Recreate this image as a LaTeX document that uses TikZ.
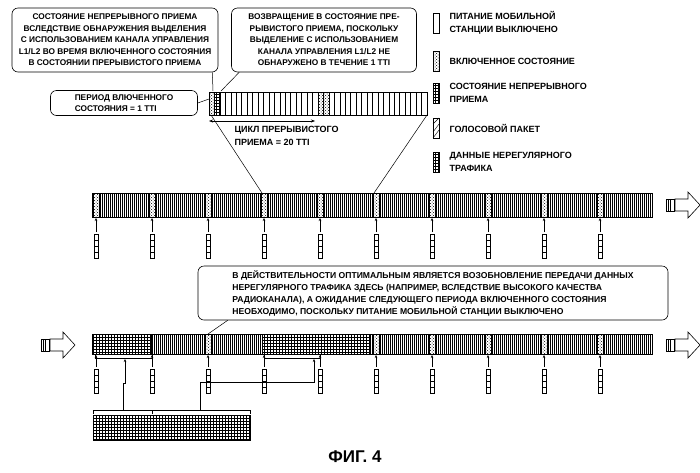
\documentclass[tikz,border=0pt]{standalone}
\usepackage{fontspec}
\setmainfont{Liberation Sans}
\usetikzlibrary{patterns,calc,arrows.meta}
\begin{document}
\begin{tikzpicture}[x=1pt,y=-1pt,
  call/.style={draw,rounded corners=6pt,line width=0.6pt,align=center,font=\bfseries\fontsize{8.3}{11.5}\selectfont,inner sep=1pt},
  onc/.style={pattern=crosshatch dots,draw,line width=0.3pt},
  cont/.style={pattern=grid,draw,line width=0.3pt},
  voice/.style={draw,fill=white,line width=0.5pt},
  lbl/.style={font=\bfseries\fontsize{9}{13}\selectfont,anchor=west,align=left},
  link/.style={line width=0.5pt},
  up/.style={-{Stealth[length=3pt,width=2.5pt]},line width=0.4pt}]
\useasboundingbox (0,0) rectangle (700,472);
% callouts top
\node[call,minimum width=206pt,minimum height=64pt] (c1) at (115,40) {СОСТОЯНИЕ НЕПРЕРЫВНОГО ПРИЕМА\\ВСЛЕДСТВИЕ ОБНАРУЖЕНИЯ ВЫДЕЛЕНИЯ\\С ИСПОЛЬЗОВАНИЕМ КАНАЛА УПРАВЛЕНИЯ\\L1/L2 ВО ВРЕМЯ ВКЛЮЧЕННОГО СОСТОЯНИЯ\\В СОСТОЯНИИ ПРЕРЫВИСТОГО ПРИЕМА};
\node[call,minimum width=185pt,minimum height=64pt] (c2) at (324,40) {ВОЗВРАЩЕНИЕ В СОСТОЯНИЕ ПРЕ-\\РЫВИСТОГО ПРИЕМА, ПОСКОЛЬКУ\\ВЫДЕЛЕНИЕ С ИСПОЛЬЗОВАНИЕМ\\КАНАЛА УПРАВЛЕНИЯ L1/L2 НЕ\\ОБНАРУЖЕНО В ТЕЧЕНИЕ 1 TTI};
\node[call,minimum width=147pt,minimum height=25pt,align=left] (c3) at (124,103) {ПЕРИОД ВЛЮЧЕННОГО\\СОСТОЯНИЯ = 1 TTI};
% zoomed bar
\foreach \i in {0,...,39} \draw[line width=0.6pt] (209+\i*5.45,92) rectangle ++(5.45,23);
\draw[onc] (209,92) rectangle ++(5.45,23);
\draw[cont] (214.45,92) rectangle ++(5.45,23);
\draw[onc] (318,92) rectangle ++(5.45,23);
\draw[onc] (323.45,92) rectangle ++(5.45,23);
\coordinate (zl) at (211,115); \coordinate (zr) at (427,115);
\draw[link] (c1.south east)++(-6,0) -- (213,91);
\draw[link] (c2.south west)++(8,0) -- (221,91);
\draw[link] (c3.east) -- (209,99);
\coordinate (a1) at (209,121); \coordinate (a2) at (315,121);
\draw[{Stealth[length=4pt]}-{Stealth[length=4pt]},line width=0.5pt] (a1) -- (a2);
\node[lbl] (cyc) at (231,136) {ЦИКЛ ПРЕРЫВИСТОГО\\ПРИЕМА = 20 TTI};
% legend
\draw[voice] (433,13) rectangle (439,33);
\draw[onc] (433,51) rectangle (439,71);
\draw[cont] (433,83) rectangle (439,103);
\draw[voice] (433,118) rectangle (439,138); \draw[line width=0.4pt] (433,132)--(439,124) (433,124)--(439,118) (433,138)--(439,130);
\draw[cont] (433,152) rectangle (439,172);
\node[lbl] (l1) at (446,23) {ПИТАНИЕ МОБИЛЬНОЙ\\СТАНЦИИ ВЫКЛЮЧЕНО};
\node[lbl] (l2) at (446,61) {ВКЛЮЧЕННОЕ СОСТОЯНИЕ};
\node[lbl] (l3) at (446,93) {СОСТОЯНИЕ НЕПРЕРЫВНОГО\\ПРИЕМА};
\node[lbl] (l4) at (446,128) {ГОЛОСОВОЙ ПАКЕТ};
\node[lbl] (l5) at (446,162) {ДАННЫЕ НЕРЕГУЛЯРНОГО\\ТРАФИКА};
% bar 1
\draw[line width=0.6pt] (92,193) rectangle (652,217);
\foreach \i in {1,...,279} \draw[line width=0.6pt] (92+\i*2,193) -- ++(0,24);
\foreach \k in {0,...,9}{
  \draw[onc,fill=white] (93+56*\k,193) rectangle ++(6,24);
  \draw[onc] (93+56*\k,193) rectangle ++(6,24);
  \draw[voice] (94+56*\k,234) rectangle ++(4,24);
  \draw[line width=0.3pt] (94+56*\k,240)--++(4,0) (94+56*\k,246)--++(4,0) (94+56*\k,252)--++(4,0);
  \draw[up] (96+56*\k,232) -- (96+56*\k,218);
}
\coordinate (b1a) at (262,193); \coordinate (b1b) at (374,193);
\draw[link] (zl) -- (b1a);
\draw[link] (zr) -- (b1b);
% hollow arrows
\newcommand{\hollow}[2]{%
  \draw[line width=0.6pt,fill=white] (#1,#2-6) rectangle ++(8,12);
  \draw[line width=0.4pt] (#1+2,#2-6)--++(0,12) (#1+4,#2-6)--++(0,12);
  \draw[line width=0.6pt,fill=white] (#1+9,#2-6) -- (#1+22,#2-6) -- (#1+22,#2-13) -- (#1+34,#2) -- (#1+22,#2+13) -- (#1+22,#2+6) -- (#1+9,#2+6) -- cycle;}
\hollow{666}{205}
\hollow{41}{345}
\hollow{666}{345}
% callout 3
\node[call,minimum width=470pt,minimum height=54pt,align=left,font=\bfseries\fontsize{8.6}{12}\selectfont] (c4) at (433,293) {В ДЕЙСТВИТЕЛЬНОСТИ ОПТИМАЛЬНЫМ ЯВЛЯЕТСЯ ВОЗОБНОВЛЕНИЕ ПЕРЕДАЧИ ДАННЫХ\\НЕРЕГУЛЯРНОГО ТРАФИКА ЗДЕСЬ (НАПРИМЕР, ВСЛЕДСТВИЕ ВЫСОКОГО КАЧЕСТВА\\РАДИОКАНАЛА), А ОЖИДАНИЕ СЛЕДУЮЩЕГО ПЕРИОДА ВКЛЮЧЕННОГО СОСТОЯНИЯ\\НЕОБХОДИМО, ПОСКОЛЬКУ ПИТАНИЕ МОБИЛЬНОЙ СТАНЦИИ ВЫКЛЮЧЕНО};
% bar 2
\draw[line width=0.6pt] (92,334) rectangle (652,354);
\foreach \i in {1,...,279} \draw[line width=0.6pt] (92+\i*2,334) -- ++(0,20);
\draw[cont,fill=white] (92,334) rectangle (151,354);
\draw[cont] (92,334) rectangle (151,354);
\draw[cont,fill=white] (262,334) rectangle (370,354);
\draw[cont] (262,334) rectangle (370,354);
\foreach \k in {2,5,6,7,8,9} {\draw[onc,fill=white] (93+56*\k,334) rectangle ++(6,20); \draw[onc] (93+56*\k,334) rectangle ++(6,20);}
\foreach \k in {0,...,9}{
  \draw[voice] (94+56*\k,369) rectangle ++(4,24);
  \draw[line width=0.3pt] (94+56*\k,375)--++(4,0) (94+56*\k,381)--++(4,0) (94+56*\k,387)--++(4,0);
  \draw[up] (96+56*\k,367) -- (96+56*\k,355);
}
\draw[link] (c4.south west)++(30,0) -- (208,334);
% braces
\draw[line width=0.5pt] (95,355) -- (95,358) -- (152,358) -- (152,355);
\draw[up] (123,410) -- (123,383) -- (125,383) -- (125,359);
\draw[line width=0.5pt] (264,355) -- (264,358) -- (320,358) -- (320,355);
\draw[up] (200,410) -- (200,382) -- (314,382) -- (314,359);
% bottom data block
\draw[line width=0.5pt] (93,414) -- (93,410) -- (250,410) -- (250,414);
\draw[line width=0.5pt] (152,410) -- (152,414);
\node[cont,minimum width=157pt,minimum height=25pt,anchor=north west,inner sep=0pt] (blk) at (93,415) {};
% title
\node[font=\bfseries\fontsize{17}{20}\selectfont] (fig) at (355,457) {ФИГ. 4};
\end{tikzpicture}
\end{document}
